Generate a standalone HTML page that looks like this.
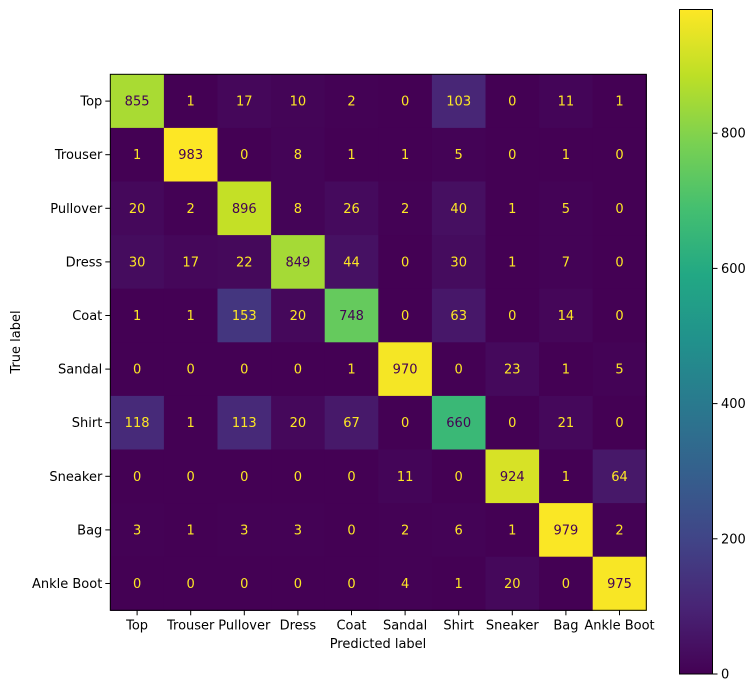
<!DOCTYPE html>
<html><head><meta charset="utf-8"><style>
html,body{margin:0;padding:0;background:#fff;}
svg{display:block;font-family:"DejaVu Sans","Liberation Sans",sans-serif;}
</style></head><body>
<svg id="s" width="756" height="692" xmlns="http://www.w3.org/2000/svg">
<defs><linearGradient id="g" x1="0" y1="1" x2="0" y2="0">
<stop offset="0" stop-color="#440154"/><stop offset="0.1" stop-color="#482475"/><stop offset="0.2" stop-color="#414487"/><stop offset="0.3" stop-color="#355f8d"/><stop offset="0.4" stop-color="#2a788e"/><stop offset="0.5" stop-color="#21918c"/><stop offset="0.6" stop-color="#22a884"/><stop offset="0.7" stop-color="#44bf70"/><stop offset="0.8" stop-color="#7ad151"/><stop offset="0.9" stop-color="#bddf26"/><stop offset="1" stop-color="#fde725"/>
</linearGradient></defs>
<g id="m"></g>
</svg>
<script>
var M=[[855,1,17,10,2,0,103,0,11,1],[1,983,0,8,1,1,5,0,1,0],[20,2,896,8,26,2,40,1,5,0],[30,17,22,849,44,0,30,1,7,0],[1,1,153,20,748,0,63,0,14,0],[0,0,0,0,1,970,0,23,1,5],[118,1,113,20,67,0,660,0,21,0],[0,0,0,0,0,11,0,924,1,64],[3,1,3,3,0,2,6,1,979,2],[0,0,0,0,0,4,1,20,0,975]];
var L=["Top","Trouser","Pullover","Dress","Coat","Sandal","Shirt","Sneaker","Bag","Ankle Boot"];
var V=["#440154","#482475","#414487","#355f8d","#2a788e","#21918c","#22a884","#44bf70","#7ad151","#bddf26","#fde725"];
function h(c){return [parseInt(c.substr(1,2),16),parseInt(c.substr(3,2),16),parseInt(c.substr(5,2),16)];}
function vir(t){t=Math.max(0,Math.min(1,t));var i=Math.min(9,Math.floor(t*10)),f=t*10-i;var a=h(V[i]),b=h(V[i+1]);return "rgb("+a.map(function(x,k){return Math.round(x+(b[k]-x)*f)}).join(",")+")";}
var x0=110.3,y0=74.3,cs=53.6,o="";
for(var r=0;r<10;r++)for(var c=0;c<10;c++){var v=M[r][c];
o+='<rect x="'+(x0+c*cs)+'" y="'+(y0+r*cs)+'" width="'+(cs+0.6)+'" height="'+(cs+0.6)+'" fill="'+vir(v/983)+'"/>';
o+='<text x="'+(x0+c*cs+cs/2)+'" y="'+(y0+r*cs+cs/2+4.5)+'" text-anchor="middle" font-size="13" fill="'+(v>491.5?"#440154":"#fde725")+'">'+v+'</text>';}
o+='<rect x="'+x0+'" y="'+y0+'" width="'+(cs*10)+'" height="'+(cs*10)+'" fill="none" stroke="#000" stroke-width="1"/>';
for(var i=0;i<10;i++){var cx=x0+i*cs+cs/2,cy=y0+i*cs+cs/2;
o+='<line x1="'+cx+'" y1="'+(y0+cs*10)+'" x2="'+cx+'" y2="'+(y0+cs*10+5)+'" stroke="#000"/>';
o+='<text x="'+cx+'" y="'+(y0+cs*10+19)+'" text-anchor="middle" font-size="13">'+L[i]+'</text>';
o+='<line x1="'+(x0-5)+'" y1="'+cy+'" x2="'+x0+'" y2="'+cy+'" stroke="#000"/>';
o+='<text x="'+(x0-8)+'" y="'+(cy+4.5)+'" text-anchor="end" font-size="13">'+L[i]+'</text>';}
o+='<text x="378" y="648" text-anchor="middle" font-size="13">Predicted label</text>';
o+='<text transform="translate(20,342) rotate(-90)" text-anchor="middle" font-size="13">True label</text>';
o+='<rect x="679.5" y="9.5" width="33" height="664.5" fill="url(#g)" stroke="#000" stroke-width="1"/>';
for(var t=0;t<=800;t+=200){var y=674-t*0.676;o+='<line x1="712.5" y1="'+y+'" x2="717.5" y2="'+y+'" stroke="#000"/><text x="721" y="'+(y+4.5)+'" font-size="13">'+t+'</text>';}
document.getElementById("m").innerHTML=o;
</script>
</body></html>
